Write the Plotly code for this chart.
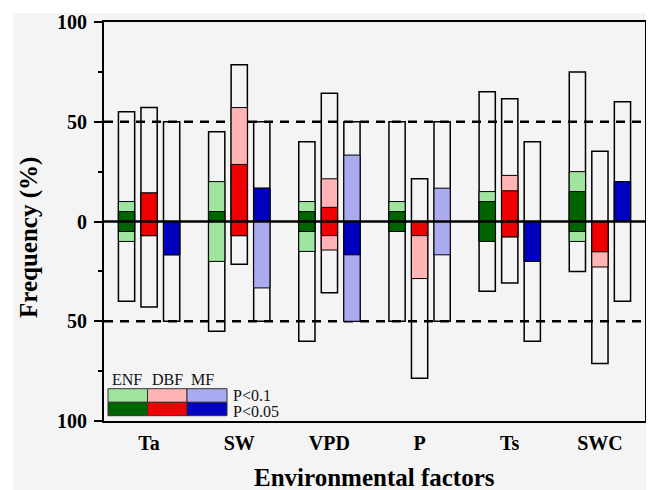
import plotly.graph_objects as go

factors = ["Ta", "SW", "VPD", "P", "Ts", "SWC"]

# ENF: total positive / negative frequency (%), and significant parts
enf_pos = [55, 45, 40, 50, 65, 75]
enf_neg = [40, 55, 60, 50, 35, 25]
enf_p10_pos = [10, 20, 10, 10, 15, 25]
enf_p10_neg = [10, 20, 15, 5, 10, 10]
enf_p05_pos = [5, 5, 5, 5, 10, 15]
enf_p05_neg = [5, 0, 5, 5, 10, 5]

# DBF
dbf_pos = [57.1, 78.6, 64.3, 21.4, 61.5, 35.2]
dbf_neg = [42.9, 21.4, 35.7, 78.6, 30.8, 71.2]
dbf_p10_pos = [14.3, 57.1, 21.4, 0, 23.1, 0]
dbf_p10_neg = [7.1, 7.1, 14.3, 28.6, 7.7, 22.8]
dbf_p05_pos = [14.3, 28.6, 7.1, 0, 15.4, 0]
dbf_p05_neg = [7.1, 7.1, 7.1, 7.1, 7.7, 15.2]

# MF
mf_pos = [50, 50, 50, 50, 40, 60]
mf_neg = [50, 50, 50, 50, 60, 40]
mf_p10_pos = [0, 16.7, 33.3, 16.7, 0, 20]
mf_p10_neg = [16.7, 33.3, 50, 16.7, 20, 0]
mf_p05_pos = [0, 16.7, 0, 0, 0, 20]
mf_p05_neg = [16.7, 0, 16.7, 0, 20, 0]

y_tickvals = [-100, -50, 0, 50, 100]
y_ticktext = ["100", "50", "0", "50", "100"]
y_minor = [-75, -25, 25, 75]

LIGHT = {"ENF": "#9fe49f", "DBF": "#ffb5b5", "MF": "#aaaaf0"}
DARK = {"ENF": "#006400", "DBF": "#f00000", "MF": "#0000c0"}
OFFSET = {"ENF": -0.34, "DBF": -0.09, "MF": 0.16}
WIDTH = 0.18

series = {
    "ENF": (enf_pos, enf_neg, enf_p10_pos, enf_p10_neg, enf_p05_pos, enf_p05_neg),
    "DBF": (dbf_pos, dbf_neg, dbf_p10_pos, dbf_p10_neg, dbf_p05_pos, dbf_p05_neg),
    "MF": (mf_pos, mf_neg, mf_p10_pos, mf_p10_neg, mf_p05_pos, mf_p05_neg),
}

fig = go.Figure()
for name, (pos, neg, p10p, p10n, p05p, p05n) in series.items():
    fig.add_trace(go.Bar(
        x=factors, y=[a + b for a, b in zip(pos, neg)], base=[-b for b in neg],
        offset=OFFSET[name], width=WIDTH,
        marker=dict(color="rgba(0,0,0,0)", line=dict(color="black", width=1.5)),
        showlegend=False, name=name))
    fig.add_trace(go.Bar(
        x=factors, y=[a + b for a, b in zip(p10p, p10n)], base=[-b for b in p10n],
        offset=OFFSET[name], width=WIDTH,
        marker=dict(color=LIGHT[name], line=dict(color="black", width=1)),
        showlegend=False, name=name + " P<0.1"))
    fig.add_trace(go.Bar(
        x=factors, y=[a + b for a, b in zip(p05p, p05n)], base=[-b for b in p05n],
        offset=OFFSET[name], width=WIDTH,
        marker=dict(color=DARK[name], line=dict(color="black", width=1)),
        showlegend=False, name=name + " P<0.05"))

# page has an 8px body margin; positions below are in screenshot pixels
PAGE = 8
W, H = 654 - PAGE, 490 - PAGE
L, R, T, B = 104, 645, 22, 421
def px(v):
    return (v - L) / (R - L)
def py(v):
    return (B - v) / (B - T)

shapes = []
# white strips at top/left of the image
shapes.append(dict(type="rect", xref="paper", yref="paper", x0=px(0), x1=px(13),
                   y0=py(490), y1=py(0), fillcolor="white", line_width=0, layer="below"))
shapes.append(dict(type="rect", xref="paper", yref="paper", x0=px(0), x1=px(654),
                   y0=py(13), y1=py(0), fillcolor="white", line_width=0, layer="below"))
for yv in (50, -50):
    shapes.append(dict(type="line", xref="paper", yref="y", x0=0, x1=1, y0=yv, y1=yv,
                       line=dict(color="black", width=2.3, dash="9px,7px"), layer="below"))
shapes.append(dict(type="line", xref="paper", yref="y", x0=0, x1=1, y0=0, y1=0,
                   line=dict(color="black", width=2.3), layer="above"))

# legend grid
cols = [(108, 147.5, "ENF"), (147.5, 187, "DBF"), (187, 227, "MF")]
rows_y = [(388.7, 402.3, LIGHT), (402.3, 415.7, DARK)]
for (xa, xb, nm) in cols:
    for (ya, yb, cmap) in rows_y:
        shapes.append(dict(type="rect", xref="paper", yref="paper",
                           x0=px(xa), x1=px(xb), y0=py(yb), y1=py(ya),
                           fillcolor=cmap[nm], line=dict(color="#333333", width=1),
                           layer="above"))

serif = "Liberation Serif, Times New Roman, serif"
annotations = []
for (xa, xb, nm) in cols:
    annotations.append(dict(text=nm, xref="paper", yref="paper", x=px(xa + 2), y=py(379),
                            xanchor="left", yanchor="middle", showarrow=False,
                            font=dict(family=serif, size=16, color="#111111")))
annotations.append(dict(text="P<0.1", xref="paper", yref="paper", x=px(231), y=py(395),
                        xanchor="left", yanchor="middle", showarrow=False,
                        font=dict(family=serif, size=16, color="#111111")))
annotations.append(dict(text="P<0.05", xref="paper", yref="paper", x=px(231), y=py(411),
                        xanchor="left", yanchor="middle", showarrow=False,
                        font=dict(family=serif, size=16, color="#111111")))
annotations.append(dict(text="Frequency (%)", xref="paper", yref="paper", x=px(29), y=py(238),
                        xanchor="center", yanchor="middle", textangle=-90, showarrow=False,
                        font=dict(family=serif, size=25, color="black", weight="bold")))
annotations.append(dict(text="Environmental factors", xref="paper", yref="paper",
                        x=px(374.5), y=py(477), xanchor="center", yanchor="middle",
                        showarrow=False,
                        font=dict(family=serif, size=25, color="black", weight="bold")))

fig.update_layout(
    width=W, height=H,
    margin=dict(l=L - PAGE, r=654 - R, t=T - PAGE, b=490 - B, autoexpand=False),
    barmode="overlay",
    paper_bgcolor="#f4f4f4", plot_bgcolor="#f4f4f4",
    shapes=shapes, annotations=annotations,
    showlegend=False,
)
fig.update_xaxes(
    type="category", range=[-0.5, 5.5], showgrid=False, zeroline=False, automargin=False,
    showline=True, linecolor="black", linewidth=2, mirror=True, ticks="",
    tickfont=dict(family=serif, size=20, color="black", weight="bold"),
    ticklabelstandoff=3,
)
fig.update_yaxes(
    range=[-100, 100], showgrid=False, zeroline=False, automargin=False,
    showline=True, linecolor="black", linewidth=2, mirror=True,
    tickmode="array", tickvals=y_tickvals, ticktext=y_ticktext,
    ticks="outside", ticklen=8, tickwidth=1.5, tickcolor="black",
    minor=dict(tickmode="array", tickvals=y_minor, ticks="outside", ticklen=4,
               tickwidth=1.5, tickcolor="black"),
    tickfont=dict(family=serif, size=20, color="black", weight="bold"),
    ticklabelstandoff=3,
)

fig.write_html("out.html")
